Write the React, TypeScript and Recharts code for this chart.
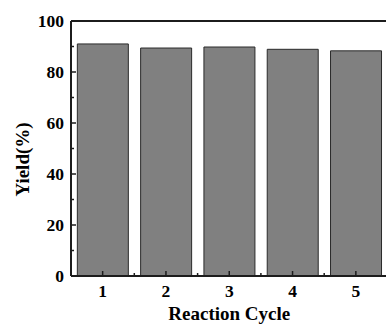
import React from "react";
import { BarChart, Bar, XAxis, YAxis, ReferenceLine, Label } from "recharts";

// values
const cycles = ["1", "2", "3", "4", "5"];
const yieldValues = [91.0, 89.4, 89.8, 88.9, 88.3];
const yTicks = [0, 10, 20, 30, 40, 50, 60, 70, 80, 90, 100];

const data = cycles.map((c, i) => ({ cycle: c, yield: yieldValues[i] }));

const AXIS = "#1c1c1c";
const textStyle: React.CSSProperties = {
  fontFamily: "'Liberation Serif', 'Times New Roman', Times, serif",
  fontWeight: 700,
  fill: "#000000",
};

// left axis: ticks point inward (to the right), minor every 10
function YTick(props: any) {
  const { x, y, payload } = props;
  const v = payload.value;
  const major = v % 20 === 0;
  return (
    <g>
      <line
        x1={x}
        x2={x + (major ? 5 : 3)}
        y1={y}
        y2={y}
        stroke={AXIS}
        strokeWidth={1.5}
      />
      {major && (
        <text
          x={x - 7}
          y={y}
          textAnchor="end"
          dominantBaseline="central"
          style={{ ...textStyle, fontSize: 17.5 }}
        >
          {v}
        </text>
      )}
    </g>
  );
}

// bottom axis: major tick at each cycle, minor tick between cycles
function XTick(props: any) {
  const { x, y, payload, width, visibleTicksCount, index } = props;
  const half = width && visibleTicksCount ? width / visibleTicksCount / 2 : 0;
  return (
    <g>
      <line x1={x} x2={x} y1={y} y2={y - 5} stroke={AXIS} strokeWidth={1.5} />
      {half > 0 && index < visibleTicksCount - 1 && (
        <line
          x1={x + half}
          x2={x + half}
          y1={y}
          y2={y - 3}
          stroke={AXIS}
          strokeWidth={1.5}
        />
      )}
      <text
        x={x}
        y={y + 15}
        textAnchor="middle"
        dominantBaseline="central"
        style={{ ...textStyle, fontSize: 17.5 }}
      >
        {payload.value}
      </text>
    </g>
  );
}

export default function App() {
  return (
    <div
      style={{
        position: "absolute",
        left: 0,
        top: 0,
        width: 386,
        height: 328,
        overflow: "hidden",
        background: "#fff",
      }}
    >
      <BarChart
        width={400}
        height={328}
        data={data}
        margin={{ top: 21, right: 12.5, bottom: 0, left: 0 }}
        barCategoryGap="10%"
      >
        <XAxis
          dataKey="cycle"
          height={52}
          tickSize={0}
          tickMargin={0}
          tickLine={false}
          axisLine={{ stroke: AXIS, strokeWidth: 2 }}
          tick={<XTick />}
          interval={0}
        >
          <Label
            content={(p: any) => {
              const vb = p.viewBox || {};
              return (
                <text
                  x={vb.x + vb.width / 2}
                  y={vb.y + 44}
                  textAnchor="middle"
                  style={{ ...textStyle, fontSize: 19 }}
                >
                  Reaction Cycle
                </text>
              );
            }}
          />
        </XAxis>
        <YAxis
          width={71}
          domain={[0, 100]}
          ticks={yTicks}
          interval={0}
          tickSize={0}
          tickMargin={0}
          tickLine={false}
          axisLine={{ stroke: AXIS, strokeWidth: 2 }}
          tick={<YTick />}
        >
          <Label
            content={(p: any) => {
              const vb = p.viewBox || {};
              const cx = vb.x + 22;
              const cy = vb.y + vb.height / 2 + 11;
              return (
                <text
                  x={cx}
                  y={cy}
                  transform={`rotate(-90 ${cx} ${cy})`}
                  textAnchor="middle"
                  dominantBaseline="central"
                  style={{ ...textStyle, fontSize: 19 }}
                >
                  Yield(%)
                </text>
              );
            }}
          />
        </YAxis>
        <ReferenceLine y={100} stroke={AXIS} strokeWidth={2} />
        <Bar
          dataKey="yield"
          fill="#808080"
          stroke="#2a2a2a"
          strokeWidth={1}
          isAnimationActive={false}
        />
      </BarChart>
    </div>
  );
}
